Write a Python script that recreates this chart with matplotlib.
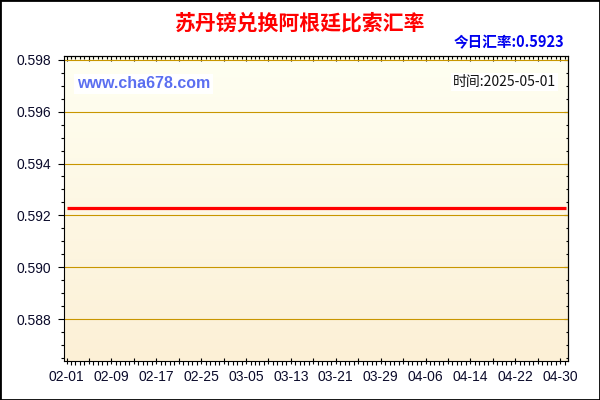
import matplotlib
matplotlib.use("Agg")
import matplotlib.pyplot as plt
from matplotlib.ticker import FixedLocator, MultipleLocator, FuncFormatter
from matplotlib.patches import Rectangle
import numpy as np
import pandas as pd

plt.rcParams['font.family'] = ['Liberation Sans', 'Noto Sans CJK SC', 'DejaVu Sans']

cjk = ['Noto Sans CJK SC', 'DejaVu Sans']

title = "苏丹镑兑换阿根廷比索汇率"
today_rate = "今日汇率:0.5923"
site = "www.cha678.com"
stamp = "时间:2025-05-01"

dates = pd.date_range("2025-02-01", "2025-05-01", freq="D")
rates = [
    0.5923, 0.5923, 0.5923, 0.5923, 0.5923, 0.5923, 0.5923, 0.5923, 0.5923, 0.5923,
    0.5923, 0.5923, 0.5923, 0.5923, 0.5923, 0.5923, 0.5923, 0.5923, 0.5923, 0.5923,
    0.5923, 0.5923, 0.5923, 0.5923, 0.5923, 0.5923, 0.5923, 0.5923, 0.5923, 0.5923,
    0.5923, 0.5923, 0.5923, 0.5923, 0.5923, 0.5923, 0.5923, 0.5923, 0.5923, 0.5923,
    0.5923, 0.5923, 0.5923, 0.5923, 0.5923, 0.5923, 0.5923, 0.5923, 0.5923, 0.5923,
    0.5923, 0.5923, 0.5923, 0.5923, 0.5923, 0.5923, 0.5923, 0.5923, 0.5923, 0.5923,
    0.5923, 0.5923, 0.5923, 0.5923, 0.5923, 0.5923, 0.5923, 0.5923, 0.5923, 0.5923,
    0.5923, 0.5923, 0.5923, 0.5923, 0.5923, 0.5923, 0.5923, 0.5923, 0.5923, 0.5923,
    0.5923, 0.5923, 0.5923, 0.5923, 0.5923, 0.5923, 0.5923, 0.5923, 0.5923, 0.5923,
]
tick_labels = ["02-01", "02-09", "02-17", "02-25", "03-05", "03-13",
               "03-21", "03-29", "04-06", "04-14", "04-22", "04-30"]
y_ticks = [0.588, 0.590, 0.592, 0.594, 0.596, 0.598]

x = np.asarray((dates - dates[0]).days, dtype=float)
label_pos = [x[list(dates.strftime("%m-%d")).index(t)] for t in tick_labels]

fig = plt.figure(figsize=(6, 4), dpi=100)
fig.patch.set_facecolor("white")
ax = fig.add_axes([64 / 600, 1 - 361 / 400, 504 / 600, 305 / 400])

xlim = (-0.45, 89.4)
ylim = (0.58638, 0.59815)

# background gradient, light at top
grad = np.linspace(0, 1, 256).reshape(-1, 1, 1)
top_c = np.array([255, 255, 242]) / 255
bot_c = np.array([252, 240, 214]) / 255
img = top_c + (bot_c - top_c) * grad
ax.imshow(img, extent=[xlim[0], xlim[1], ylim[0], ylim[1]], origin="upper",
          aspect="auto", zorder=0)
ax.set_xlim(*xlim)
ax.set_ylim(*ylim)

for v in y_ticks:
    ax.axhline(v, color="#C89600", lw=0.8, zorder=1)

ax.plot(x, rates, color="#FF0000", lw=2.3, zorder=3, solid_capstyle="butt")

# bottom / left ticks
major_x = list(np.arange(0, 89, 4))
ax.xaxis.set_major_locator(FixedLocator(major_x))
ax.xaxis.set_minor_locator(MultipleLocator(0.8))
ax.xaxis.set_major_formatter(FuncFormatter(
    lambda v, p: tick_labels[label_pos.index(v)] if v in label_pos else ""))
ax.yaxis.set_major_locator(FixedLocator(y_ticks))
ax.yaxis.set_minor_locator(MultipleLocator(0.0005))
ax.yaxis.set_major_formatter(FuncFormatter(lambda v, p: "%.3f" % v))

ax.tick_params(axis="x", which="major", direction="inout", length=5, width=0.8,
               labelsize=10, pad=4, labelcolor="#0a0a2a")
ax.tick_params(axis="x", which="minor", direction="out", length=3, width=0.8)
ax.tick_params(axis="y", which="major", direction="out", length=4, width=0.8,
               labelsize=10, pad=5, labelcolor="#0a0a2a")
ax.tick_params(axis="y", which="minor", direction="out", length=2, width=0.8)

# top / right ticks point inward
top = ax.secondary_xaxis("top")
top.xaxis.set_major_locator(FixedLocator(major_x))
top.xaxis.set_minor_locator(MultipleLocator(0.8))
top.tick_params(axis="x", which="major", direction="in", length=3.6, width=0.8, labeltop=False)
top.tick_params(axis="x", which="minor", direction="in", length=1.8, width=0.8)
right = ax.secondary_yaxis("right")
right.yaxis.set_major_locator(FixedLocator(y_ticks))
right.yaxis.set_minor_locator(MultipleLocator(0.0005))
right.tick_params(axis="y", which="major", direction="in", length=2.9, width=0.8, labelright=False)
right.tick_params(axis="y", which="minor", direction="in", length=1.5, width=0.8)

for s in list(ax.spines.values()) + [top.spines["top"], right.spines["right"]]:
    s.set_linewidth(0.8)
    s.set_color("black")

fig.text(0.5, 1 - 23 / 400, title, ha="center", va="center", fontsize=15,
         fontweight="bold", color="#FF0000", family=cjk)
fig.text(564 / 600, 1 - 42.5 / 400, today_rate, ha="right", va="center", fontsize=10.5,
         fontweight="bold", color="#0000EE", family=cjk)
fig.text(77 / 600, 1 - 84 / 400, site, ha="left", va="center", fontsize=11.5,
         fontweight="bold", color="#5B6FF0",
         bbox=dict(facecolor="white", edgecolor="none", pad=2))
fig.text(556 / 600, 1 - 82 / 400, stamp, ha="right", va="center", fontsize=10,
         color="#111111", family=cjk,
         bbox=dict(facecolor="white", edgecolor="none", pad=1.5))

fig.patches.append(Rectangle((0, 0), 1, 1, transform=fig.transFigure, fill=False,
                             edgecolor="black", lw=2, zorder=10))

fig.savefig("out.png", dpi=100)
